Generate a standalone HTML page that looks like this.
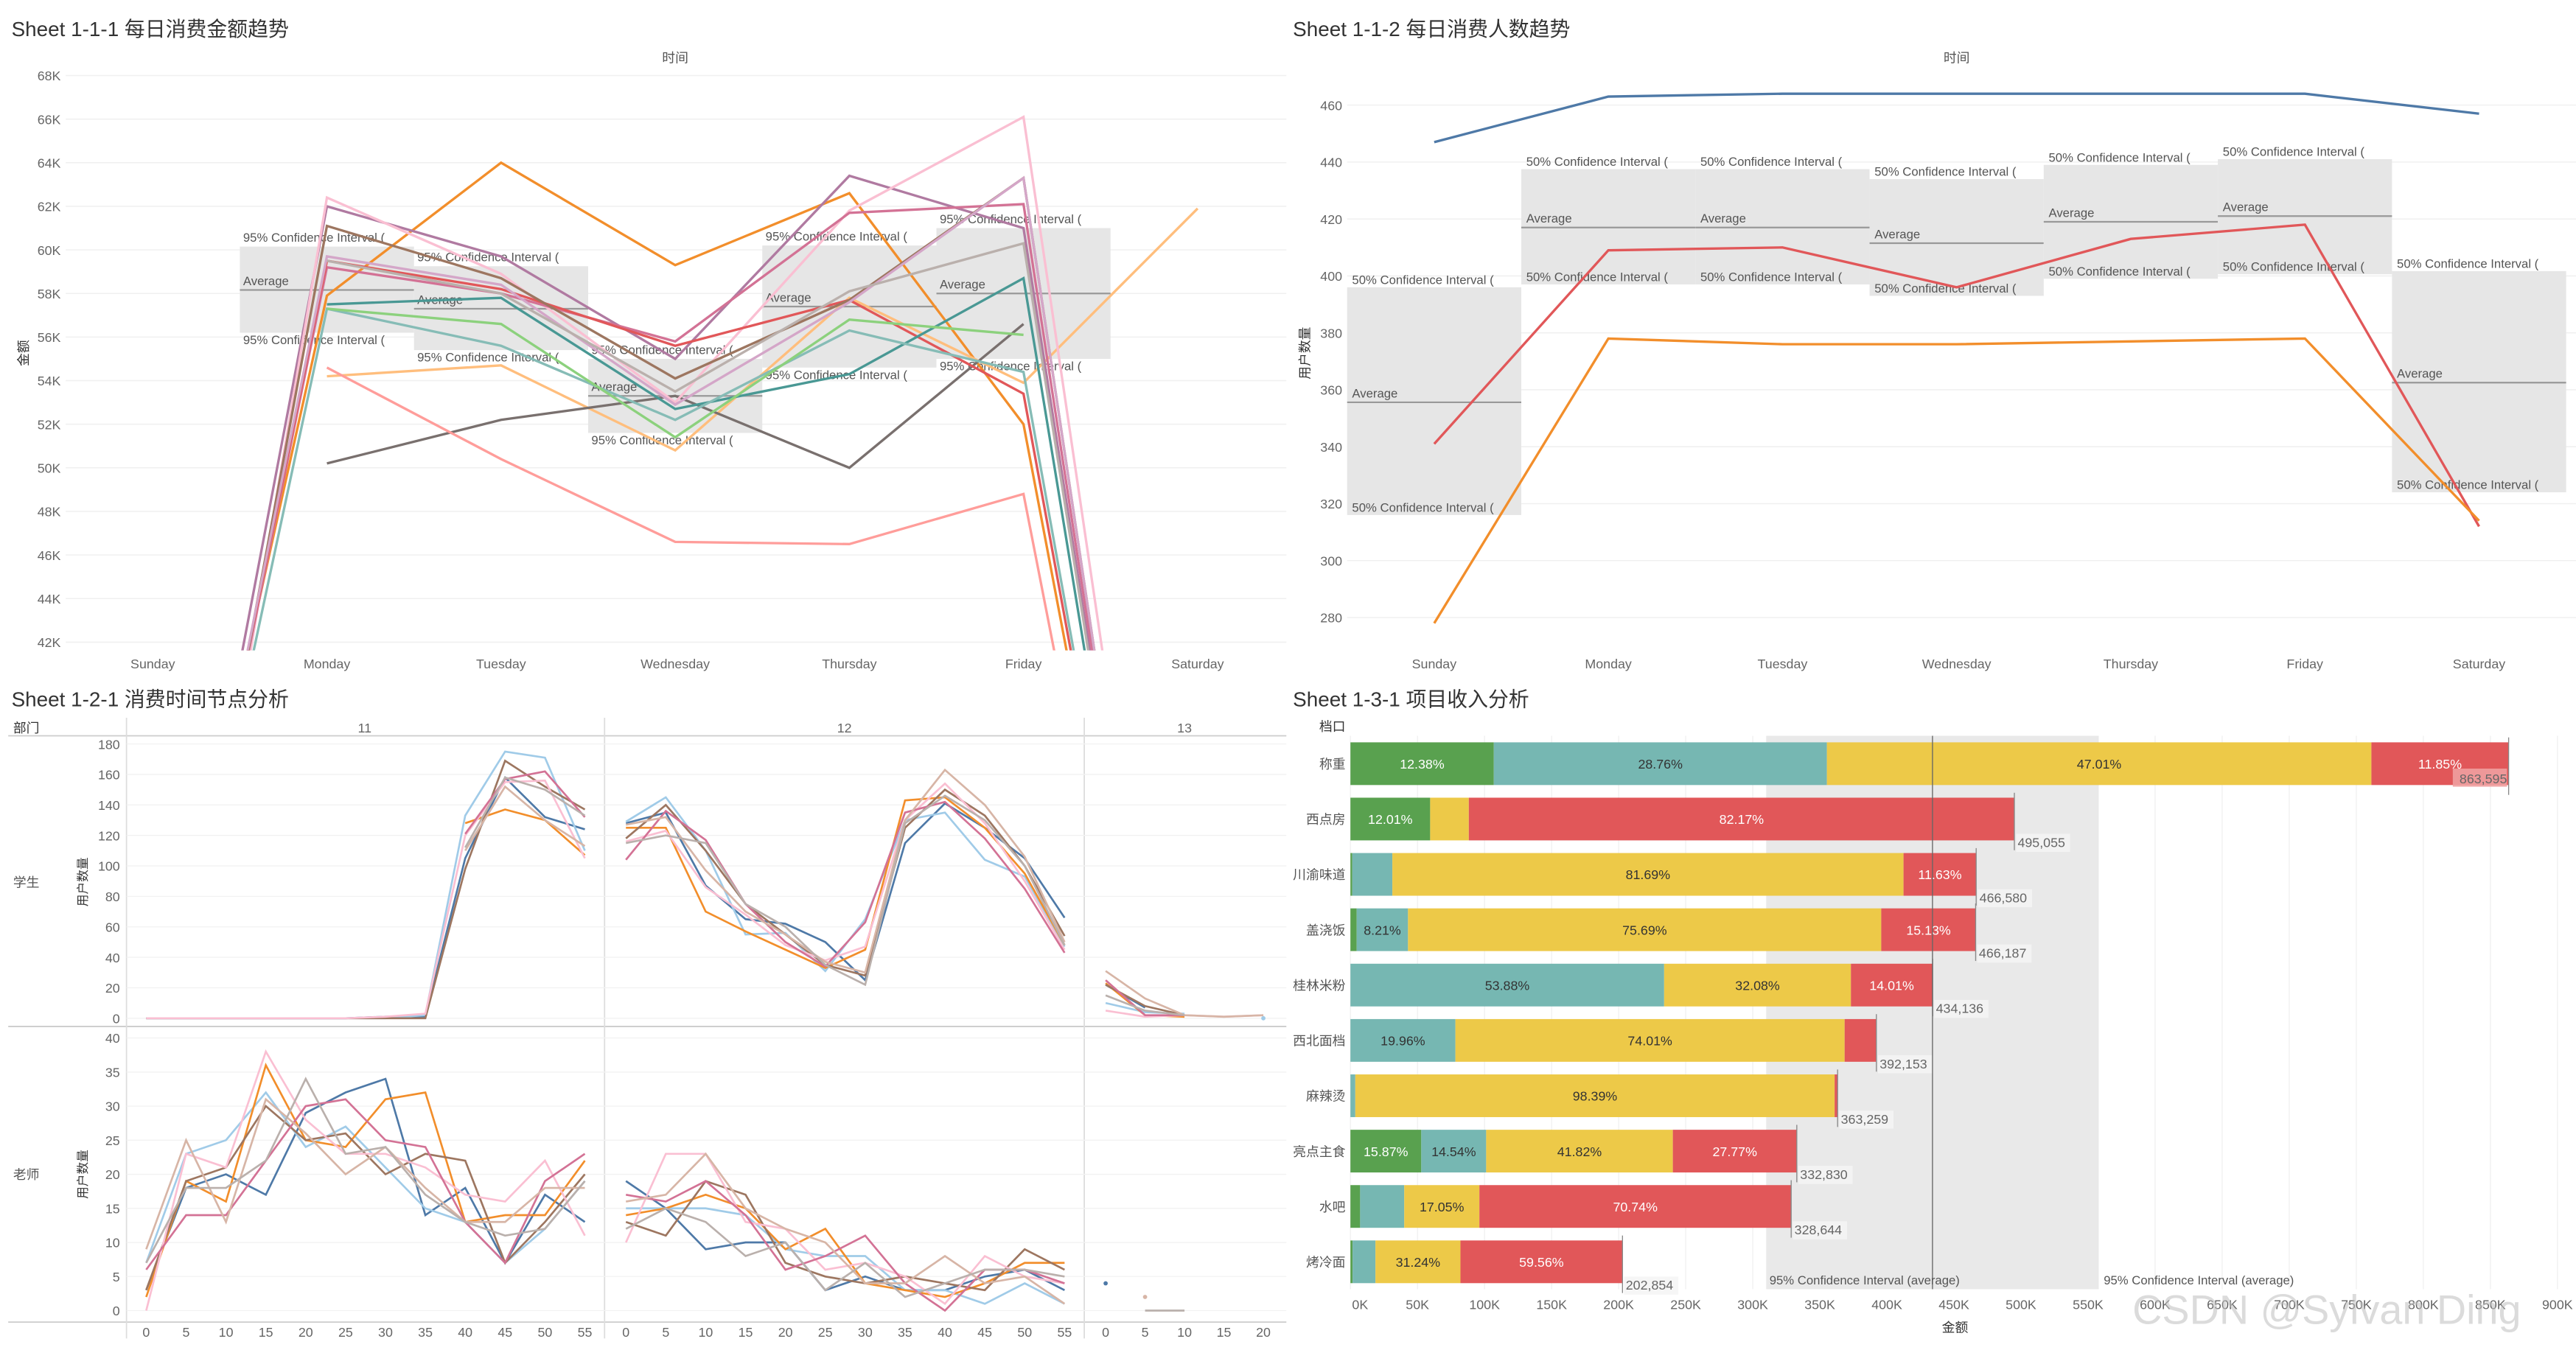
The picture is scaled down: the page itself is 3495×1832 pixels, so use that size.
<!DOCTYPE html>
<html><head><meta charset="utf-8">
<style>
html,body{margin:0;padding:0;background:#fff;}
svg{display:block;font-family:"Liberation Sans","Noto Sans CJK SC",sans-serif;}
</style></head>
<body>
<svg id="root" xmlns="http://www.w3.org/2000/svg" width="3495" height="1832" viewBox="0 0 1568 822" preserveAspectRatio="none">
<defs>
<clipPath id="c1"><rect x="40" y="40" width="743" height="356"/></clipPath>
<clipPath id="c2"><rect x="820" y="40" width="748" height="356"/></clipPath>
</defs>
</svg>
<script>
// ---------- DATA ----------
const days = ["Sunday","Monday","Tuesday","Wednesday","Thursday","Friday","Saturday"];
const amtTicks = [42,44,46,48,50,52,54,56,58,60,62,64,66,68];
const amtColors = ["#f28e2b","#ffbe7d","#79706e","#ff9d9a","#b07aa1","#fabfd2","#d37295","#e15759","#9d7660","#499894","#86bcb6","#8cd17d","#d4a6c8","#bab0ac"];
const amtA = [22,57.9,64.0,59.3,62.6,52.0,10];
const amtB = [null,54.2,54.7,50.8,57.8,53.9,61.9];
const amtC = [null,50.2,52.2,53.3,50.0,56.6,null];
const amtD = [null,54.6,50.4,46.6,46.5,48.8,8];
const amtE = [20,62.0,59.7,55.0,63.4,61.0,10];
const amtF = [15,62.4,58.9,53.0,61.8,66.1,12];
const amtG = [20,59.2,58.0,55.8,61.7,62.1,10];
const amtH = [20,59.5,58.2,55.6,57.7,53.4,10];
const amtI = [18,61.1,58.7,54.1,57.7,63.3,10];
const amtJ = [null,57.5,57.8,52.7,54.3,58.7,10];
const amtK = [20,57.3,55.6,52.2,56.3,54.4,10];
const amtL = [null,57.3,56.6,51.4,56.8,56.1,null];
const amtM = [20,59.7,58.4,52.9,57.6,63.3,10];
const amtN = [null,59.5,58.0,53.5,58.1,60.3,10];
const amtSeries = [amtA,amtB,amtC,amtD,amtE,amtF,amtG,amtH,amtI,amtJ,amtK,amtL,amtM,amtN];
const amtBandHi = [60.15,59.25,55.0,60.2,61.0];
const amtBandAvg = [58.16,57.3,53.3,57.4,58.0];
const amtBandLo = [56.2,55.4,51.6,54.6,55.0];

const userTicks = [280,300,320,340,360,380,400,420,440,460];
const usersBlue = [447,463,464,464,464,464,457];
const usersRed = [341,409,410,396,413,418,312];
const usersOrange = [278,378,376,376,377,378,314];
const userBandHi = [396,437.5,437.5,434,439,441,401.7];
const userBandAvg = [355.6,417,417,411.5,419,421,362.5];
const userBandLo = [316,397,397,393,399,400.6,324];

const mins = [0,5,10,15,20,25,30,35,40,45,50,55];
const mins13 = [0,5,10,15,20];
const stuTicks = [0,20,40,60,80,100,120,140,160,180];
const teaTicks = [0,5,10,15,20,25,30,35,40];
const hourColors = ["#4e79a7","#a0cbe8","#f28e2b","#9d7660","#fabfd2","#d37295","#d7b5a6","#bab0ac"];
const stu11 = [
 [0,0,0,0,0,0,1,1,105,158,132,124],
 [0,0,0,0,0,0,0,2,133,175,171,110],
 [null,null,null,null,null,null,null,null,128,137,130,107],
 [0,0,0,0,0,0,0,0,98,169,152,137],
 [0,0,0,0,0,0,1,3,120,155,156,105],
 [null,null,null,null,null,null,null,null,121,157,162,132],
 [null,null,null,null,null,null,null,null,110,152,130,113],
 [null,null,null,null,null,null,null,null,112,158,150,133]];
const stu12 = [
 [128,135,87,65,62,50,25,115,141,125,105,66],
 [129,145,110,55,56,31,65,130,135,104,93,47],
 [125,125,70,57,45,33,45,143,145,125,95,48],
 [118,140,110,75,55,35,28,125,150,133,100,54],
 [116,123,86,68,48,38,47,130,154,128,90,45],
 [104,136,117,75,50,34,63,135,142,118,85,43],
 [127,132,97,70,55,37,30,130,163,140,106,50],
 [115,120,115,75,60,35,22,128,146,130,100,48]];
const stu13 = [
 [22,7,null,null,null],
 [10,4,3,null,0],
 [23,2,1,null,null],
 [22,8,2,null,null],
 [5,1,2,1,2],
 [25,2,2,null,null],
 [31,13,2,1,2],
 [15,5,2,null,null]];
const tea11 = [
 [3,18,20,17,29,32,34,14,18,7,17,13],
 [7,23,25,32,24,27,21,15,13,7,12,19],
 [2,19,16,36,25,24,31,32,13,14,14,22],
 [3,19,21,30,25,26,20,23,22,7,13,20],
 [0,23,21,38,28,23,23,21,17,16,22,11],
 [6,14,14,22,30,31,25,24,13,7,19,23],
 [9,25,13,31,26,20,24,18,13,13,18,18],
 [7,18,18,22,34,23,24,17,13,11,12,19]];
const tea12 = [
 [19,15,9,10,10,3,5,3,3,5,6,3],
 [15,15,15,14,9,8,8,3,3,1,4,1],
 [14,15,17,15,9,12,4,3,2,4,7,7],
 [13,11,19,17,7,5,4,5,4,3,9,6],
 [10,23,23,13,12,6,7,5,1,8,5,4],
 [17,16,19,14,6,8,11,4,0,6,6,4],
 [16,17,23,15,12,10,4,4,8,4,5,1],
 [12,15,13,8,10,3,7,2,4,6,6,5]];
const tea13 = [
 [4,null,null,null,null],[null,null,null,null,null],[null,null,null,null,null],[null,null,null,null,null],
 [null,null,null,null,null],[null,null,null,null,null],[null,2,null,null,null],[null,0,0,null,null]];

const stalls = ["称重","西点房","川渝味道","盖浇饭","桂林米粉","西北面档","麻辣烫","亮点主食","水吧","烤冷面"];
const stallTotals = [863595,495055,466580,466187,434136,392153,363259,332830,328644,202854];
const pctGreen = [12.38,12.01,0.3,1.0,0,0,0,15.87,2.2,0.8];
const pctTeal = [28.76,0,6.4,8.21,53.88,19.96,1.0,14.54,10.01,8.4];
const pctYellow = [47.01,5.82,81.69,75.69,32.08,74.01,98.39,41.82,17.05,31.24];
const pctRed = [11.85,82.17,11.63,15.13,14.01,6.03,0.6,27.77,70.74,59.56];
const revTicks = [0,50,100,150,200,250,300,350,400,450,500,550,600,650,700,750,800,850,900];
const revBand = [310,434,558];

// ---------- HELPERS ----------
const NS="http://www.w3.org/2000/svg";
const root=document.getElementById('root');
function mk(tag,attrs,parent){const e=document.createElementNS(NS,tag);for(const k in attrs)e.setAttribute(k,attrs[k]);(parent||root).appendChild(e);return e;}
function txt(s,x,y,size,fill,anchor,parent){const t=mk('text',{x:x,y:y,'font-size':size,fill:fill,'text-anchor':anchor||'start'},parent);t.textContent=s;return t;}
function pathFrom(xs,ys){let d='',pen=false;for(let i=0;i<xs.length;i++){if(ys[i]==null){pen=false;continue;}d+=(pen?'L':'M')+xs[i].toFixed(2)+' '+ys[i].toFixed(2);pen=true;}return d;}

// ---------- CHART 1 ----------
const g1=mk('g',{});


let t=txt('Sheet 1-1-1 每日消费金额趋势',7,22,12.5,'#333','start',g1);


t=txt('时间',411,38,8,'#555','middle',g1);


const dx1=d=>93+d*106;
const ay=v=>46+(68-v)*(345/26);
amtTicks.forEach(v=>{
  const l=mk('line',{x1:40,x2:783,y1:ay(v),y2:ay(v),stroke:'#f0f0f0','stroke-width':0.7},g1);
  
  
  const tk=txt(v+'K',37,ay(v)+3,8,'#666','end',g1);
  
  
});
days.forEach((d,i)=>{
  const tk=txt(d,dx1(i),407,8,'#666','middle',g1);
  
  
});
t=txt('金额',0,0,8,'#333','middle',g1);
t.setAttribute('transform','translate(17,215) rotate(-90)');


amtBandHi.forEach((h,i)=>{
  const x0=dx1(i+1)-53;
  const r=mk('rect',{x:x0,y:ay(h),width:106,height:ay(amtBandLo[i])-ay(h),fill:'#e6e6e6'},g1);
  
  
  const a=mk('line',{x1:x0,x2:x0+106,y1:ay(amtBandAvg[i]),y2:ay(amtBandAvg[i]),stroke:'#999','stroke-width':1},g1);
  
  
  const l1=txt('95% Confidence Interval (',x0+2,ay(h)-3,7.5,'#555','start',g1);
  
  
  const l2=txt('Average',x0+2,ay(amtBandAvg[i])-3,7.5,'#555','start',g1);
  
  
  const l3=txt('95% Confidence Interval (',x0+2,ay(amtBandLo[i])+7,7.5,'#555','start',g1);
  
  
});
const s1=mk('g',{'clip-path':'url(#c1)'},g1);
amtSeries.forEach((s,i)=>{
  const p=mk('path',{d:pathFrom(s.map((v,j)=>dx1(j)),s.map(v=>v==null?null:ay(v))),fill:'none',stroke:amtColors[i],'stroke-width':1.5},s1);
  
  
});

// ---------- CHART 2 ----------
const g2=mk('g',{});


t=txt('Sheet 1-1-2 每日消费人数趋势',787,22,12.5,'#333','start',g2);


t=txt('时间',1191,38,8,'#555','middle',g2);


const dx2=d=>873+d*106;
const uy=v=>64+(460-v)*(312/180);
userTicks.forEach(v=>{
  const l=mk('line',{x1:820,x2:1568,y1:uy(v),y2:uy(v),stroke:'#f0f0f0','stroke-width':0.7},g2);
  
  
  const tk=txt(String(v),817,uy(v)+3,8,'#666','end',g2);
  
  
});
days.forEach((d,i)=>{
  const tk=txt(d,dx2(i),407,8,'#666','middle',g2);
  
  
});
t=txt('用户数量',0,0,8,'#333','middle',g2);
t.setAttribute('transform','translate(797,215) rotate(-90)');


userBandHi.forEach((h,i)=>{
  const x0=dx2(i)-53;
  const r=mk('rect',{x:x0,y:uy(h),width:106,height:uy(userBandLo[i])-uy(h),fill:'#e6e6e6'},g2);
  
  
  const a=mk('line',{x1:x0,x2:x0+106,y1:uy(userBandAvg[i]),y2:uy(userBandAvg[i]),stroke:'#999','stroke-width':1},g2);
  
  
  const l1=txt('50% Confidence Interval (',x0+3,uy(h)-2,7.5,'#555','start',g2);
  
  
  const l2=txt('Average',x0+3,uy(userBandAvg[i])-3,7.5,'#555','start',g2);
  
  
  const l3=txt('50% Confidence Interval (',x0+3,uy(userBandLo[i])-2,7.5,'#555','start',g2);
  
  
});
const s2=mk('g',{'clip-path':'url(#c2)'},g2);
[[usersBlue,'#4e79a7'],[usersRed,'#e15759'],[usersOrange,'#f28e2b']].forEach(([s,c])=>{
  const p=mk('path',{d:pathFrom(s.map((v,j)=>dx2(j)),s.map(uy)),fill:'none',stroke:c,'stroke-width':1.5},s2);
  
  
});

// ---------- CHART 3 ----------
const g3=mk('g',{});


t=txt('Sheet 1-2-1 消费时间节点分析',7,430,12.5,'#333','start',g3);


t=txt('部门',8,446,8,'#333','start',g3);


[['11',222],['12',514],['13',721]].forEach(([s,x])=>{
  const h=txt(s,x,446,8,'#666','middle',g3);
  
  
});
[[5,448,783,448],[5,625,783,625],[5,805,783,805]].forEach(a=>{
  const l=mk('line',{x1:a[0],y1:a[1],x2:a[2],y2:a[3],stroke:'#ccc','stroke-width':0.8},g3);
  
  
});
[77,368,660].forEach(x=>{
  const l=mk('line',{x1:x,y1:437,x2:x,y2:815,stroke:'#ddd','stroke-width':0.8},g3);
  
  
});
const colX=[v=>89+v*(267/55),v=>381+v*(267/55),v=>673+v*(96/20)];
const syS=v=>620-v*(167/180);
const syT=v=>798-v*(166/40);
stuTicks.forEach(v=>{
  const l=mk('line',{x1:77,x2:783,y1:syS(v),y2:syS(v),stroke:'#f2f2f2','stroke-width':0.6},g3);
  
  
  const tk=txt(String(v),73,syS(v)+3,8,'#666','end',g3);
  
  
});
teaTicks.forEach(v=>{
  const l=mk('line',{x1:77,x2:783,y1:syT(v),y2:syT(v),stroke:'#f2f2f2','stroke-width':0.6},g3);
  
  
  const tk=txt(String(v),73,syT(v)+3,8,'#666','end',g3);
  
  
});
[[mins,colX[0]],[mins,colX[1]],[mins13,colX[2]]].forEach(([arr,f])=>{
  arr.forEach(m=>{
    const tk=txt(String(m),f(m),814,8,'#666','middle',g3);
    
    
  });
});
t=txt('学生',16,540,8,'#555','middle',g3);


t=txt('老师',16,718,8,'#555','middle',g3);


[537,715].forEach(y=>{
  const yt=txt('用户数量',0,0,7.5,'#333','middle',g3);
  yt.setAttribute('transform','translate(53,'+y+') rotate(-90)');
  
  
});
function drawFacet(sets,xs,fx,fy,name){
  sets.forEach((s,i)=>{
    const p=mk('path',{d:pathFrom(xs.map(fx),s.map(v=>v==null?null:fy(v))),fill:'none',stroke:hourColors[i],'stroke-width':1.2},g3);
    
    
    s.forEach((v,j)=>{
      const prev=j>0?s[j-1]:null,next=j<s.length-1?s[j+1]:null;
      if(v!=null&&prev==null&&next==null){
        const c=mk('circle',{cx:fx(xs[j]),cy:fy(v),r:1.3,fill:hourColors[i]},g3);
        
        
      }
    });
  });
}
drawFacet(stu11,mins,colX[0],syS,'student-h11-line');
drawFacet(stu12,mins,colX[1],syS,'student-h12-line');
drawFacet(stu13,mins13,colX[2],syS,'student-h13-line');
drawFacet(tea11,mins,colX[0],syT,'teacher-h11-line');
drawFacet(tea12,mins,colX[1],syT,'teacher-h12-line');
drawFacet(tea13,mins13,colX[2],syT,'teacher-h13-line');

// ---------- CHART 4 ----------
const g4=mk('g',{});


t=txt('Sheet 1-3-1 项目收入分析',787,430,12.5,'#333','start',g4);


t=txt('档口',803,445,8,'#333','start',g4);


const rx=k=>822+k*(705/863.6);
const rowY=i=>465+i*33.7;
revTicks.forEach((k,i)=>{
  const l=mk('line',{x1:rx(k),x2:rx(k),y1:448,y2:785,stroke:'#f0f0f0','stroke-width':0.6},g4);
  
  
  const tk=txt(k+'K',i==0?rx(k)+1:rx(k),797,8,'#666',i==0?'start':'middle',g4);
  
  
});
t=txt('金额',1190,811,8,'#333','middle',g4);


const band=mk('rect',{x:rx(revBand[0]),y:448,width:rx(revBand[2])-rx(revBand[0]),height:337,fill:'#e9e9e9'},g4);


stalls.forEach((s,i)=>{
  const lb=txt(s,819,rowY(i)+3,8,'#555','end',g4);
  
  
  const tot=stallTotals[i]/1000;
  let acc=0;
  [[pctGreen,'#59a14f','#fff'],[pctTeal,'#76b7b2','#333'],[pctYellow,'#edc948','#333'],[pctRed,'#e15759','#fff']].forEach(([arr,col,tc])=>{
    const p=arr[i];
    if(p<=0)return;
    const x0=rx(tot*acc/100),x1=rx(tot*(acc+p)/100);
    acc+=p;
    const r=mk('rect',{x:x0,y:rowY(i)-13,width:Math.max(0.6,x1-x0),height:26,fill:col},g4);
    
    
    if(p>=8&&(x1-x0)>=30){
      const tl=txt(p.toFixed(2)+'%',(x0+x1)/2,rowY(i)+3,8,tc,'middle',g4);
      
      
    }
  });
  const ex=rx(tot);
  const tl=mk('line',{x1:ex,x2:ex,y1:rowY(i)-16,y2:rowY(i)+19,stroke:'#888','stroke-width':0.6},g4);
  
  
  const first=i==0;
  const bg=mk('rect',{x:first?ex-34:ex+1,y:first?rowY(i)+3:rowY(i)+9,width:33,height:11,fill:first?'rgba(240,160,160,0.9)':'rgba(245,245,245,0.85)'},g4);
  
  
  const tv=txt(stallTotals[i].toLocaleString('en-US'),first?ex-1:ex+2,first?rowY(i)+12:rowY(i)+17,8,'#666',first?'end':'start',g4);
  
  
});
const avg=mk('line',{x1:rx(revBand[1]),x2:rx(revBand[1]),y1:448,y2:785,stroke:'#666','stroke-width':0.6},g4);


t=txt('95% Confidence Interval (average)',rx(revBand[0])+2,782,7.5,'#555','start',g4);


t=txt('95% Confidence Interval (average)',rx(revBand[2])+3,782,7.5,'#555','start',g4);


t=txt('CSDN @Sylvan Ding',1298,806,25,'rgba(190,190,190,0.55)','start',g4);


</script>
</body></html>
